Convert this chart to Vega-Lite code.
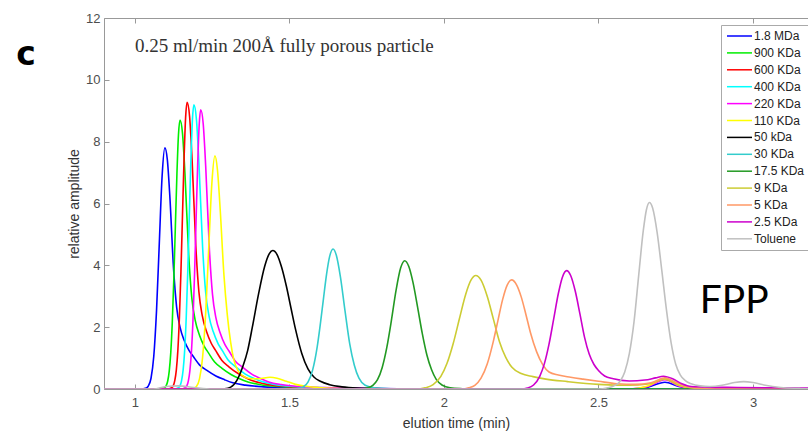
{
"$schema": "https://vega.github.io/schema/vega-lite/v6.json",
"width": 704, "height": 371,
"autosize": {"type": "none"},
"padding": {"left": 104, "top": 18, "right": 0, "bottom": 43},
"background": "white",
"config": {"view": {"stroke": null}, "font": "Liberation Sans"},
"datasets": {"curves": [
{"s":"1.8 MDa","t":0.9,"a":0},{"s":"1.8 MDa","t":1.02,"a":0},{"s":"1.8 MDa","t":1.034,"a":0.02},{"s":"1.8 MDa","t":1.043,"a":0.09},{"s":"1.8 MDa","t":1.052,"a":0.34},{"s":"1.8 MDa","t":1.061,"a":1.05},{"s":"1.8 MDa","t":1.07,"a":2.54},{"s":"1.8 MDa","t":1.079,"a":4.73},{"s":"1.8 MDa","t":1.088,"a":6.88},{"s":"1.8 MDa","t":1.097,"a":7.8},{"s":"1.8 MDa","t":1.105,"a":7.41},{"s":"1.8 MDa","t":1.113,"a":6.24},{"s":"1.8 MDa","t":1.125,"a":3.9},{"s":"1.8 MDa","t":1.135,"a":2.65},{"s":"1.8 MDa","t":1.146,"a":2.0},{"s":"1.8 MDa","t":1.16,"a":1.56},{"s":"1.8 MDa","t":1.175,"a":1.25},{"s":"1.8 MDa","t":1.189,"a":1.05},{"s":"1.8 MDa","t":1.209,"a":0.78},{"s":"1.8 MDa","t":1.233,"a":0.6},{"s":"1.8 MDa","t":1.262,"a":0.42},{"s":"1.8 MDa","t":1.29,"a":0.3},{"s":"1.8 MDa","t":1.317,"a":0.2},{"s":"1.8 MDa","t":1.357,"a":0.125},{"s":"1.8 MDa","t":1.417,"a":0.07},{"s":"1.8 MDa","t":1.497,"a":0.039},{"s":"1.8 MDa","t":1.597,"a":0.023},{"s":"1.8 MDa","t":1.75,"a":0.01},{"s":"1.8 MDa","t":2.0,"a":0},{"s":"1.8 MDa","t":2.6,"a":0},{"s":"1.8 MDa","t":2.66,"a":0.06},{"s":"1.8 MDa","t":2.715,"a":0.22},{"s":"1.8 MDa","t":2.76,"a":0.08},{"s":"1.8 MDa","t":2.82,"a":0.01},{"s":"1.8 MDa","t":3.178,"a":0},
{"s":"900 KDa","t":0.9,"a":0},{"s":"900 KDa","t":1.085,"a":0},{"s":"900 KDa","t":1.096,"a":0.04},{"s":"900 KDa","t":1.101,"a":0.1},{"s":"900 KDa","t":1.106,"a":0.25},{"s":"900 KDa","t":1.111,"a":0.57},{"s":"900 KDa","t":1.116,"a":1.17},{"s":"900 KDa","t":1.121,"a":2.17},{"s":"900 KDa","t":1.126,"a":3.58},{"s":"900 KDa","t":1.131,"a":5.28},{"s":"900 KDa","t":1.136,"a":6.96},{"s":"900 KDa","t":1.141,"a":8.23},{"s":"900 KDa","t":1.146,"a":8.7},{"s":"900 KDa","t":1.154,"a":8.27},{"s":"900 KDa","t":1.162,"a":6.96},{"s":"900 KDa","t":1.174,"a":4.35},{"s":"900 KDa","t":1.184,"a":2.96},{"s":"900 KDa","t":1.195,"a":2.23},{"s":"900 KDa","t":1.209,"a":1.74},{"s":"900 KDa","t":1.224,"a":1.39},{"s":"900 KDa","t":1.238,"a":1.17},{"s":"900 KDa","t":1.258,"a":0.87},{"s":"900 KDa","t":1.282,"a":0.67},{"s":"900 KDa","t":1.311,"a":0.47},{"s":"900 KDa","t":1.339,"a":0.33},{"s":"900 KDa","t":1.366,"a":0.23},{"s":"900 KDa","t":1.406,"a":0.14},{"s":"900 KDa","t":1.466,"a":0.08},{"s":"900 KDa","t":1.546,"a":0.044},{"s":"900 KDa","t":1.646,"a":0.026},{"s":"900 KDa","t":1.8,"a":0.01},{"s":"900 KDa","t":2.0,"a":0},{"s":"900 KDa","t":3.178,"a":0},
{"s":"600 KDa","t":0.9,"a":0},{"s":"600 KDa","t":1.108,"a":0},{"s":"600 KDa","t":1.119,"a":0.04},{"s":"600 KDa","t":1.124,"a":0.1},{"s":"600 KDa","t":1.129,"a":0.27},{"s":"600 KDa","t":1.134,"a":0.61},{"s":"600 KDa","t":1.139,"a":1.25},{"s":"600 KDa","t":1.144,"a":2.31},{"s":"600 KDa","t":1.149,"a":3.81},{"s":"600 KDa","t":1.154,"a":5.63},{"s":"600 KDa","t":1.159,"a":7.42},{"s":"600 KDa","t":1.164,"a":8.77},{"s":"600 KDa","t":1.169,"a":9.27},{"s":"600 KDa","t":1.177,"a":8.81},{"s":"600 KDa","t":1.185,"a":7.42},{"s":"600 KDa","t":1.197,"a":4.64},{"s":"600 KDa","t":1.207,"a":3.15},{"s":"600 KDa","t":1.218,"a":2.37},{"s":"600 KDa","t":1.232,"a":1.85},{"s":"600 KDa","t":1.247,"a":1.48},{"s":"600 KDa","t":1.261,"a":1.25},{"s":"600 KDa","t":1.281,"a":0.93},{"s":"600 KDa","t":1.305,"a":0.71},{"s":"600 KDa","t":1.334,"a":0.5},{"s":"600 KDa","t":1.362,"a":0.35},{"s":"600 KDa","t":1.389,"a":0.24},{"s":"600 KDa","t":1.429,"a":0.15},{"s":"600 KDa","t":1.489,"a":0.083},{"s":"600 KDa","t":1.569,"a":0.046},{"s":"600 KDa","t":1.669,"a":0.028},{"s":"600 KDa","t":1.8,"a":0.01},{"s":"600 KDa","t":2.0,"a":0},{"s":"600 KDa","t":3.178,"a":0},
{"s":"400 KDa","t":0.9,"a":0},{"s":"400 KDa","t":1.13,"a":0},{"s":"400 KDa","t":1.141,"a":0.04},{"s":"400 KDa","t":1.146,"a":0.1},{"s":"400 KDa","t":1.151,"a":0.27},{"s":"400 KDa","t":1.156,"a":0.61},{"s":"400 KDa","t":1.161,"a":1.24},{"s":"400 KDa","t":1.166,"a":2.29},{"s":"400 KDa","t":1.171,"a":3.78},{"s":"400 KDa","t":1.176,"a":5.58},{"s":"400 KDa","t":1.181,"a":7.35},{"s":"400 KDa","t":1.186,"a":8.69},{"s":"400 KDa","t":1.191,"a":9.19},{"s":"400 KDa","t":1.199,"a":8.73},{"s":"400 KDa","t":1.207,"a":7.35},{"s":"400 KDa","t":1.219,"a":4.6},{"s":"400 KDa","t":1.229,"a":3.12},{"s":"400 KDa","t":1.24,"a":2.35},{"s":"400 KDa","t":1.254,"a":1.84},{"s":"400 KDa","t":1.269,"a":1.47},{"s":"400 KDa","t":1.283,"a":1.24},{"s":"400 KDa","t":1.303,"a":0.92},{"s":"400 KDa","t":1.327,"a":0.71},{"s":"400 KDa","t":1.356,"a":0.49},{"s":"400 KDa","t":1.384,"a":0.35},{"s":"400 KDa","t":1.411,"a":0.24},{"s":"400 KDa","t":1.451,"a":0.15},{"s":"400 KDa","t":1.511,"a":0.083},{"s":"400 KDa","t":1.591,"a":0.046},{"s":"400 KDa","t":1.691,"a":0.028},{"s":"400 KDa","t":1.85,"a":0.01},{"s":"400 KDa","t":2.0,"a":0},{"s":"400 KDa","t":3.178,"a":0},
{"s":"220 KDa","t":0.9,"a":0},{"s":"220 KDa","t":1.152,"a":0},{"s":"220 KDa","t":1.163,"a":0.04},{"s":"220 KDa","t":1.168,"a":0.1},{"s":"220 KDa","t":1.173,"a":0.26},{"s":"220 KDa","t":1.178,"a":0.6},{"s":"220 KDa","t":1.183,"a":1.22},{"s":"220 KDa","t":1.188,"a":2.25},{"s":"220 KDa","t":1.193,"a":3.71},{"s":"220 KDa","t":1.198,"a":5.48},{"s":"220 KDa","t":1.203,"a":7.22},{"s":"220 KDa","t":1.208,"a":8.54},{"s":"220 KDa","t":1.213,"a":9.03},{"s":"220 KDa","t":1.221,"a":8.58},{"s":"220 KDa","t":1.229,"a":7.22},{"s":"220 KDa","t":1.241,"a":4.52},{"s":"220 KDa","t":1.251,"a":3.07},{"s":"220 KDa","t":1.262,"a":2.31},{"s":"220 KDa","t":1.276,"a":1.81},{"s":"220 KDa","t":1.291,"a":1.44},{"s":"220 KDa","t":1.305,"a":1.22},{"s":"220 KDa","t":1.325,"a":0.9},{"s":"220 KDa","t":1.349,"a":0.7},{"s":"220 KDa","t":1.378,"a":0.48},{"s":"220 KDa","t":1.406,"a":0.34},{"s":"220 KDa","t":1.433,"a":0.23},{"s":"220 KDa","t":1.473,"a":0.145},{"s":"220 KDa","t":1.533,"a":0.08},{"s":"220 KDa","t":1.613,"a":0.045},{"s":"220 KDa","t":1.713,"a":0.027},{"s":"220 KDa","t":1.85,"a":0.01},{"s":"220 KDa","t":2.0,"a":0},{"s":"220 KDa","t":2.6,"a":0},{"s":"220 KDa","t":2.66,"a":0.08},{"s":"220 KDa","t":2.715,"a":0.3},{"s":"220 KDa","t":2.76,"a":0.1},{"s":"220 KDa","t":2.82,"a":0.01},{"s":"220 KDa","t":3.178,"a":0},
{"s":"110 KDa","t":0.9,"a":0},{"s":"110 KDa","t":1.18,"a":0},{"s":"110 KDa","t":1.19,"a":0.02},{"s":"110 KDa","t":1.199,"a":0.08},{"s":"110 KDa","t":1.209,"a":0.33},{"s":"110 KDa","t":1.219,"a":1.02},{"s":"110 KDa","t":1.229,"a":2.45},{"s":"110 KDa","t":1.239,"a":4.58},{"s":"110 KDa","t":1.249,"a":6.65},{"s":"110 KDa","t":1.259,"a":7.54},{"s":"110 KDa","t":1.267,"a":7.1},{"s":"110 KDa","t":1.276,"a":5.8},{"s":"110 KDa","t":1.288,"a":3.7},{"s":"110 KDa","t":1.299,"a":2.4},{"s":"110 KDa","t":1.31,"a":1.5},{"s":"110 KDa","t":1.32,"a":0.95},{"s":"110 KDa","t":1.333,"a":0.6},{"s":"110 KDa","t":1.35,"a":0.42},{"s":"110 KDa","t":1.37,"a":0.34},{"s":"110 KDa","t":1.4,"a":0.33},{"s":"110 KDa","t":1.437,"a":0.38},{"s":"110 KDa","t":1.46,"a":0.35},{"s":"110 KDa","t":1.49,"a":0.25},{"s":"110 KDa","t":1.52,"a":0.15},{"s":"110 KDa","t":1.56,"a":0.08},{"s":"110 KDa","t":1.62,"a":0.03},{"s":"110 KDa","t":1.7,"a":0.01},{"s":"110 KDa","t":1.8,"a":0},{"s":"110 KDa","t":2.6,"a":0},{"s":"110 KDa","t":2.66,"a":0.1},{"s":"110 KDa","t":2.715,"a":0.33},{"s":"110 KDa","t":2.76,"a":0.12},{"s":"110 KDa","t":2.82,"a":0.01},{"s":"110 KDa","t":3.178,"a":0},
{"s":"50 kDa","t":0.9,"a":0},{"s":"50 kDa","t":1.27,"a":0},{"s":"50 kDa","t":1.29,"a":0.01},{"s":"50 kDa","t":1.31,"a":0.06},{"s":"50 kDa","t":1.33,"a":0.28},{"s":"50 kDa","t":1.35,"a":0.75},{"s":"50 kDa","t":1.365,"a":1.25},{"s":"50 kDa","t":1.38,"a":2.0},{"s":"50 kDa","t":1.4,"a":3.07},{"s":"50 kDa","t":1.42,"a":3.97},{"s":"50 kDa","t":1.435,"a":4.38},{"s":"50 kDa","t":1.446,"a":4.48},{"s":"50 kDa","t":1.46,"a":4.35},{"s":"50 kDa","t":1.475,"a":3.93},{"s":"50 kDa","t":1.49,"a":3.33},{"s":"50 kDa","t":1.505,"a":2.62},{"s":"50 kDa","t":1.52,"a":1.92},{"s":"50 kDa","t":1.54,"a":1.15},{"s":"50 kDa","t":1.56,"a":0.65},{"s":"50 kDa","t":1.58,"a":0.38},{"s":"50 kDa","t":1.6,"a":0.25},{"s":"50 kDa","t":1.63,"a":0.14},{"s":"50 kDa","t":1.67,"a":0.07},{"s":"50 kDa","t":1.72,"a":0.03},{"s":"50 kDa","t":1.8,"a":0.01},{"s":"50 kDa","t":1.9,"a":0},{"s":"50 kDa","t":3.178,"a":0},
{"s":"30 KDa","t":0.9,"a":0},{"s":"30 KDa","t":1.52,"a":0},{"s":"30 KDa","t":1.53,"a":0.02},{"s":"30 KDa","t":1.545,"a":0.07},{"s":"30 KDa","t":1.56,"a":0.22},{"s":"30 KDa","t":1.575,"a":0.61},{"s":"30 KDa","t":1.59,"a":1.37},{"s":"30 KDa","t":1.6,"a":2.1},{"s":"30 KDa","t":1.61,"a":2.91},{"s":"30 KDa","t":1.62,"a":3.7},{"s":"30 KDa","t":1.63,"a":4.28},{"s":"30 KDa","t":1.641,"a":4.53},{"s":"30 KDa","t":1.652,"a":4.32},{"s":"30 KDa","t":1.665,"a":3.63},{"s":"30 KDa","t":1.68,"a":2.52},{"s":"30 KDa","t":1.695,"a":1.47},{"s":"30 KDa","t":1.71,"a":0.77},{"s":"30 KDa","t":1.725,"a":0.35},{"s":"30 KDa","t":1.745,"a":0.12},{"s":"30 KDa","t":1.77,"a":0.05},{"s":"30 KDa","t":1.8,"a":0.02},{"s":"30 KDa","t":1.85,"a":0},{"s":"30 KDa","t":3.178,"a":0},
{"s":"17.5 KDa","t":0.9,"a":0},{"s":"17.5 KDa","t":1.73,"a":0},{"s":"17.5 KDa","t":1.75,"a":0.03},{"s":"17.5 KDa","t":1.77,"a":0.12},{"s":"17.5 KDa","t":1.785,"a":0.3},{"s":"17.5 KDa","t":1.8,"a":0.69},{"s":"17.5 KDa","t":1.815,"a":1.34},{"s":"17.5 KDa","t":1.83,"a":2.22},{"s":"17.5 KDa","t":1.845,"a":3.19},{"s":"17.5 KDa","t":1.86,"a":3.92},{"s":"17.5 KDa","t":1.873,"a":4.15},{"s":"17.5 KDa","t":1.886,"a":3.97},{"s":"17.5 KDa","t":1.9,"a":3.44},{"s":"17.5 KDa","t":1.915,"a":2.63},{"s":"17.5 KDa","t":1.93,"a":1.79},{"s":"17.5 KDa","t":1.945,"a":1.09},{"s":"17.5 KDa","t":1.96,"a":0.62},{"s":"17.5 KDa","t":1.975,"a":0.31},{"s":"17.5 KDa","t":1.995,"a":0.12},{"s":"17.5 KDa","t":2.02,"a":0.04},{"s":"17.5 KDa","t":2.06,"a":0.01},{"s":"17.5 KDa","t":2.1,"a":0},{"s":"17.5 KDa","t":3.178,"a":0},
{"s":"9 KDa","t":0.9,"a":0},{"s":"9 KDa","t":1.92,"a":0},{"s":"9 KDa","t":1.94,"a":0.04},{"s":"9 KDa","t":1.965,"a":0.14},{"s":"9 KDa","t":1.99,"a":0.41},{"s":"9 KDa","t":2.01,"a":0.83},{"s":"9 KDa","t":2.03,"a":1.47},{"s":"9 KDa","t":2.05,"a":2.27},{"s":"9 KDa","t":2.07,"a":3.05},{"s":"9 KDa","t":2.087,"a":3.51},{"s":"9 KDa","t":2.103,"a":3.67},{"s":"9 KDa","t":2.12,"a":3.52},{"s":"9 KDa","t":2.14,"a":3.0},{"s":"9 KDa","t":2.16,"a":2.26},{"s":"9 KDa","t":2.18,"a":1.52},{"s":"9 KDa","t":2.2,"a":1.02},{"s":"9 KDa","t":2.22,"a":0.7},{"s":"9 KDa","t":2.25,"a":0.5},{"s":"9 KDa","t":2.288,"a":0.4},{"s":"9 KDa","t":2.33,"a":0.32},{"s":"9 KDa","t":2.4,"a":0.24},{"s":"9 KDa","t":2.5,"a":0.15},{"s":"9 KDa","t":2.6,"a":0.12},{"s":"9 KDa","t":2.66,"a":0.16},{"s":"9 KDa","t":2.715,"a":0.32},{"s":"9 KDa","t":2.76,"a":0.12},{"s":"9 KDa","t":2.82,"a":0.02},{"s":"9 KDa","t":2.9,"a":0},{"s":"9 KDa","t":3.178,"a":0},
{"s":"5 KDa","t":0.9,"a":0},{"s":"5 KDa","t":2.06,"a":0},{"s":"5 KDa","t":2.08,"a":0.04},{"s":"5 KDa","t":2.1,"a":0.12},{"s":"5 KDa","t":2.12,"a":0.35},{"s":"5 KDa","t":2.14,"a":0.81},{"s":"5 KDa","t":2.16,"a":1.55},{"s":"5 KDa","t":2.175,"a":2.23},{"s":"5 KDa","t":2.19,"a":2.9},{"s":"5 KDa","t":2.205,"a":3.37},{"s":"5 KDa","t":2.219,"a":3.53},{"s":"5 KDa","t":2.235,"a":3.37},{"s":"5 KDa","t":2.25,"a":2.98},{"s":"5 KDa","t":2.265,"a":2.42},{"s":"5 KDa","t":2.28,"a":1.82},{"s":"5 KDa","t":2.3,"a":1.2},{"s":"5 KDa","t":2.32,"a":0.78},{"s":"5 KDa","t":2.34,"a":0.55},{"s":"5 KDa","t":2.37,"a":0.45},{"s":"5 KDa","t":2.41,"a":0.38},{"s":"5 KDa","t":2.45,"a":0.32},{"s":"5 KDa","t":2.5,"a":0.25},{"s":"5 KDa","t":2.56,"a":0.17},{"s":"5 KDa","t":2.62,"a":0.15},{"s":"5 KDa","t":2.67,"a":0.2},{"s":"5 KDa","t":2.715,"a":0.36},{"s":"5 KDa","t":2.75,"a":0.22},{"s":"5 KDa","t":2.8,"a":0.05},{"s":"5 KDa","t":2.9,"a":0.01},{"s":"5 KDa","t":3.0,"a":0},{"s":"5 KDa","t":3.178,"a":0},
{"s":"2.5 KDa","t":0.9,"a":0},{"s":"2.5 KDa","t":2.25,"a":0},{"s":"2.5 KDa","t":2.27,"a":0.03},{"s":"2.5 KDa","t":2.29,"a":0.13},{"s":"2.5 KDa","t":2.31,"a":0.41},{"s":"2.5 KDa","t":2.325,"a":0.82},{"s":"2.5 KDa","t":2.34,"a":1.45},{"s":"2.5 KDa","t":2.355,"a":2.26},{"s":"2.5 KDa","t":2.37,"a":3.08},{"s":"2.5 KDa","t":2.383,"a":3.61},{"s":"2.5 KDa","t":2.397,"a":3.83},{"s":"2.5 KDa","t":2.41,"a":3.67},{"s":"2.5 KDa","t":2.425,"a":3.16},{"s":"2.5 KDa","t":2.44,"a":2.43},{"s":"2.5 KDa","t":2.455,"a":1.67},{"s":"2.5 KDa","t":2.47,"a":1.13},{"s":"2.5 KDa","t":2.485,"a":0.8},{"s":"2.5 KDa","t":2.5,"a":0.6},{"s":"2.5 KDa","t":2.52,"a":0.42},{"s":"2.5 KDa","t":2.548,"a":0.33},{"s":"2.5 KDa","t":2.6,"a":0.26},{"s":"2.5 KDa","t":2.65,"a":0.29},{"s":"2.5 KDa","t":2.685,"a":0.36},{"s":"2.5 KDa","t":2.71,"a":0.41},{"s":"2.5 KDa","t":2.74,"a":0.33},{"s":"2.5 KDa","t":2.77,"a":0.17},{"s":"2.5 KDa","t":2.8,"a":0.08},{"s":"2.5 KDa","t":2.85,"a":0.06},{"s":"2.5 KDa","t":2.95,"a":0.05},{"s":"2.5 KDa","t":3.05,"a":0.04},{"s":"2.5 KDa","t":3.178,"a":0.03},
{"s":"Toluene","t":0.9,"a":0},{"s":"Toluene","t":1.06,"a":0},{"s":"Toluene","t":1.1,"a":0.08},{"s":"Toluene","t":1.14,"a":0.1},{"s":"Toluene","t":1.19,"a":0.05},{"s":"Toluene","t":1.25,"a":0},{"s":"Toluene","t":2.5,"a":0},{"s":"Toluene","t":2.53,"a":0.04},{"s":"Toluene","t":2.55,"a":0.1},{"s":"Toluene","t":2.57,"a":0.25},{"s":"Toluene","t":2.585,"a":0.55},{"s":"Toluene","t":2.6,"a":1.15},{"s":"Toluene","t":2.615,"a":2.17},{"s":"Toluene","t":2.63,"a":3.66},{"s":"Toluene","t":2.645,"a":5.12},{"s":"Toluene","t":2.655,"a":5.79},{"s":"Toluene","t":2.665,"a":6.03},{"s":"Toluene","t":2.675,"a":5.86},{"s":"Toluene","t":2.69,"a":5.05},{"s":"Toluene","t":2.705,"a":3.83},{"s":"Toluene","t":2.72,"a":2.56},{"s":"Toluene","t":2.735,"a":1.5},{"s":"Toluene","t":2.75,"a":0.8},{"s":"Toluene","t":2.765,"a":0.45},{"s":"Toluene","t":2.78,"a":0.28},{"s":"Toluene","t":2.8,"a":0.17},{"s":"Toluene","t":2.83,"a":0.1},{"s":"Toluene","t":2.86,"a":0.08},{"s":"Toluene","t":2.9,"a":0.12},{"s":"Toluene","t":2.94,"a":0.21},{"s":"Toluene","t":2.97,"a":0.24},{"s":"Toluene","t":3.0,"a":0.21},{"s":"Toluene","t":3.04,"a":0.12},{"s":"Toluene","t":3.09,"a":0.05},{"s":"Toluene","t":3.15,"a":0.02},{"s":"Toluene","t":3.178,"a":0.01}
]},
"resolve": {"axis": {"x": "independent"}},
"layer": [
{"data": {"name": "curves"},
 "mark": {"type": "line", "strokeWidth": 1.6, "interpolate": "monotone", "clip": true},
 "encoding": {
  "x": {"field": "t", "type": "quantitative", "scale": {"domain": [0.9, 3.178], "nice": false, "zero": false},
   "axis": {"orient": "bottom", "values": [1, 1.5, 2, 2.5, 3], "labelExpr": "'' + datum.value", "title": "elution time (min)", "titleFont": "Liberation Sans", "titleFontSize": 14, "titleFontWeight": "normal", "titleColor": "#333333", "titlePadding": 7, "labelFont": "Liberation Sans", "labelFontSize": 13, "labelColor": "#4d4d4d", "tickSize": -5, "tickColor": "#999999", "domainColor": "#999999", "grid": false, "labelPadding": 12}},
  "y": {"field": "a", "type": "quantitative", "scale": {"domain": [0, 12], "nice": false},
   "axis": {"values": [0, 2, 4, 6, 8, 10, 12], "title": "relative amplitude", "titleFont": "Liberation Sans", "titleFontSize": 14, "titleFontWeight": "normal", "titleColor": "#333333", "titlePadding": 4, "labelFont": "Liberation Sans", "labelFontSize": 13, "labelColor": "#4d4d4d", "tickSize": -5, "tickColor": "#999999", "domainColor": "#999999", "grid": false, "labelPadding": 9}},
  "color": {"field": "s", "type": "nominal",
   "scale": {"domain": ["1.8 MDa", "900 KDa", "600 KDa", "400 KDa", "220 KDa", "110 KDa", "50 kDa", "30 KDa", "17.5 KDa", "9 KDa", "5 KDa", "2.5 KDa", "Toluene"],
    "range": ["#0000ff", "#00ee00", "#ff0000", "#00ffff", "#ff00ff", "#ffff00", "#000000", "#33cccc", "#229922", "#cccc33", "#ff9966", "#cc00cc", "#c0c0c0"]},
   "legend": {"orient": "none", "legendX": 617, "legendY": 7, "title": null, "symbolType": "M-1,0H4", "symbolSize": 100, "symbolStrokeWidth": 1.5, "labelFont": "Liberation Sans", "labelFontSize": 12, "labelColor": "#222222", "labelOffset": 16, "rowPadding": 4.9, "padding": 5, "strokeColor": "#aaaaaa", "fillColor": "white", "labelLimit": 200}}
 }},
{"data": {"values": [{}]},
 "mark": {"type": "text", "font": "Liberation Serif", "fontSize": 19, "align": "left", "baseline": "alphabetic", "color": "#333333"},
 "encoding": {
  "x": {"datum": 1.0, "type": "quantitative", "axis": {"orient": "top", "values": [1, 1.5, 2, 2.5, 3], "labels": false, "title": null, "tickSize": -5, "tickColor": "#999999", "domainColor": "#999999", "grid": false}},
  "y": {"datum": 10.9, "type": "quantitative"},
  "text": {"value": "0.25 ml/min 200Å fully porous particle"}}},
{"data": {"values": [{}]},
 "mark": {"type": "text", "font": "Lato", "fontSize": 39, "align": "center", "baseline": "alphabetic", "color": "#000000"},
 "encoding": {
  "x": {"datum": 2.939, "type": "quantitative", "axis": null},
  "y": {"datum": 2.46, "type": "quantitative"},
  "text": {"value": "FPP"}}},
{"data": {"values": [{}]},
 "mark": {"type": "text", "font": "DejaVu Sans", "fontSize": 33, "fontWeight": "bold", "align": "center", "baseline": "alphabetic", "color": "#000000"},
 "encoding": {
  "x": {"datum": 0.6476, "type": "quantitative", "axis": null},
  "y": {"datum": 10.485, "type": "quantitative"},
  "text": {"value": "c"}}}
]
}
